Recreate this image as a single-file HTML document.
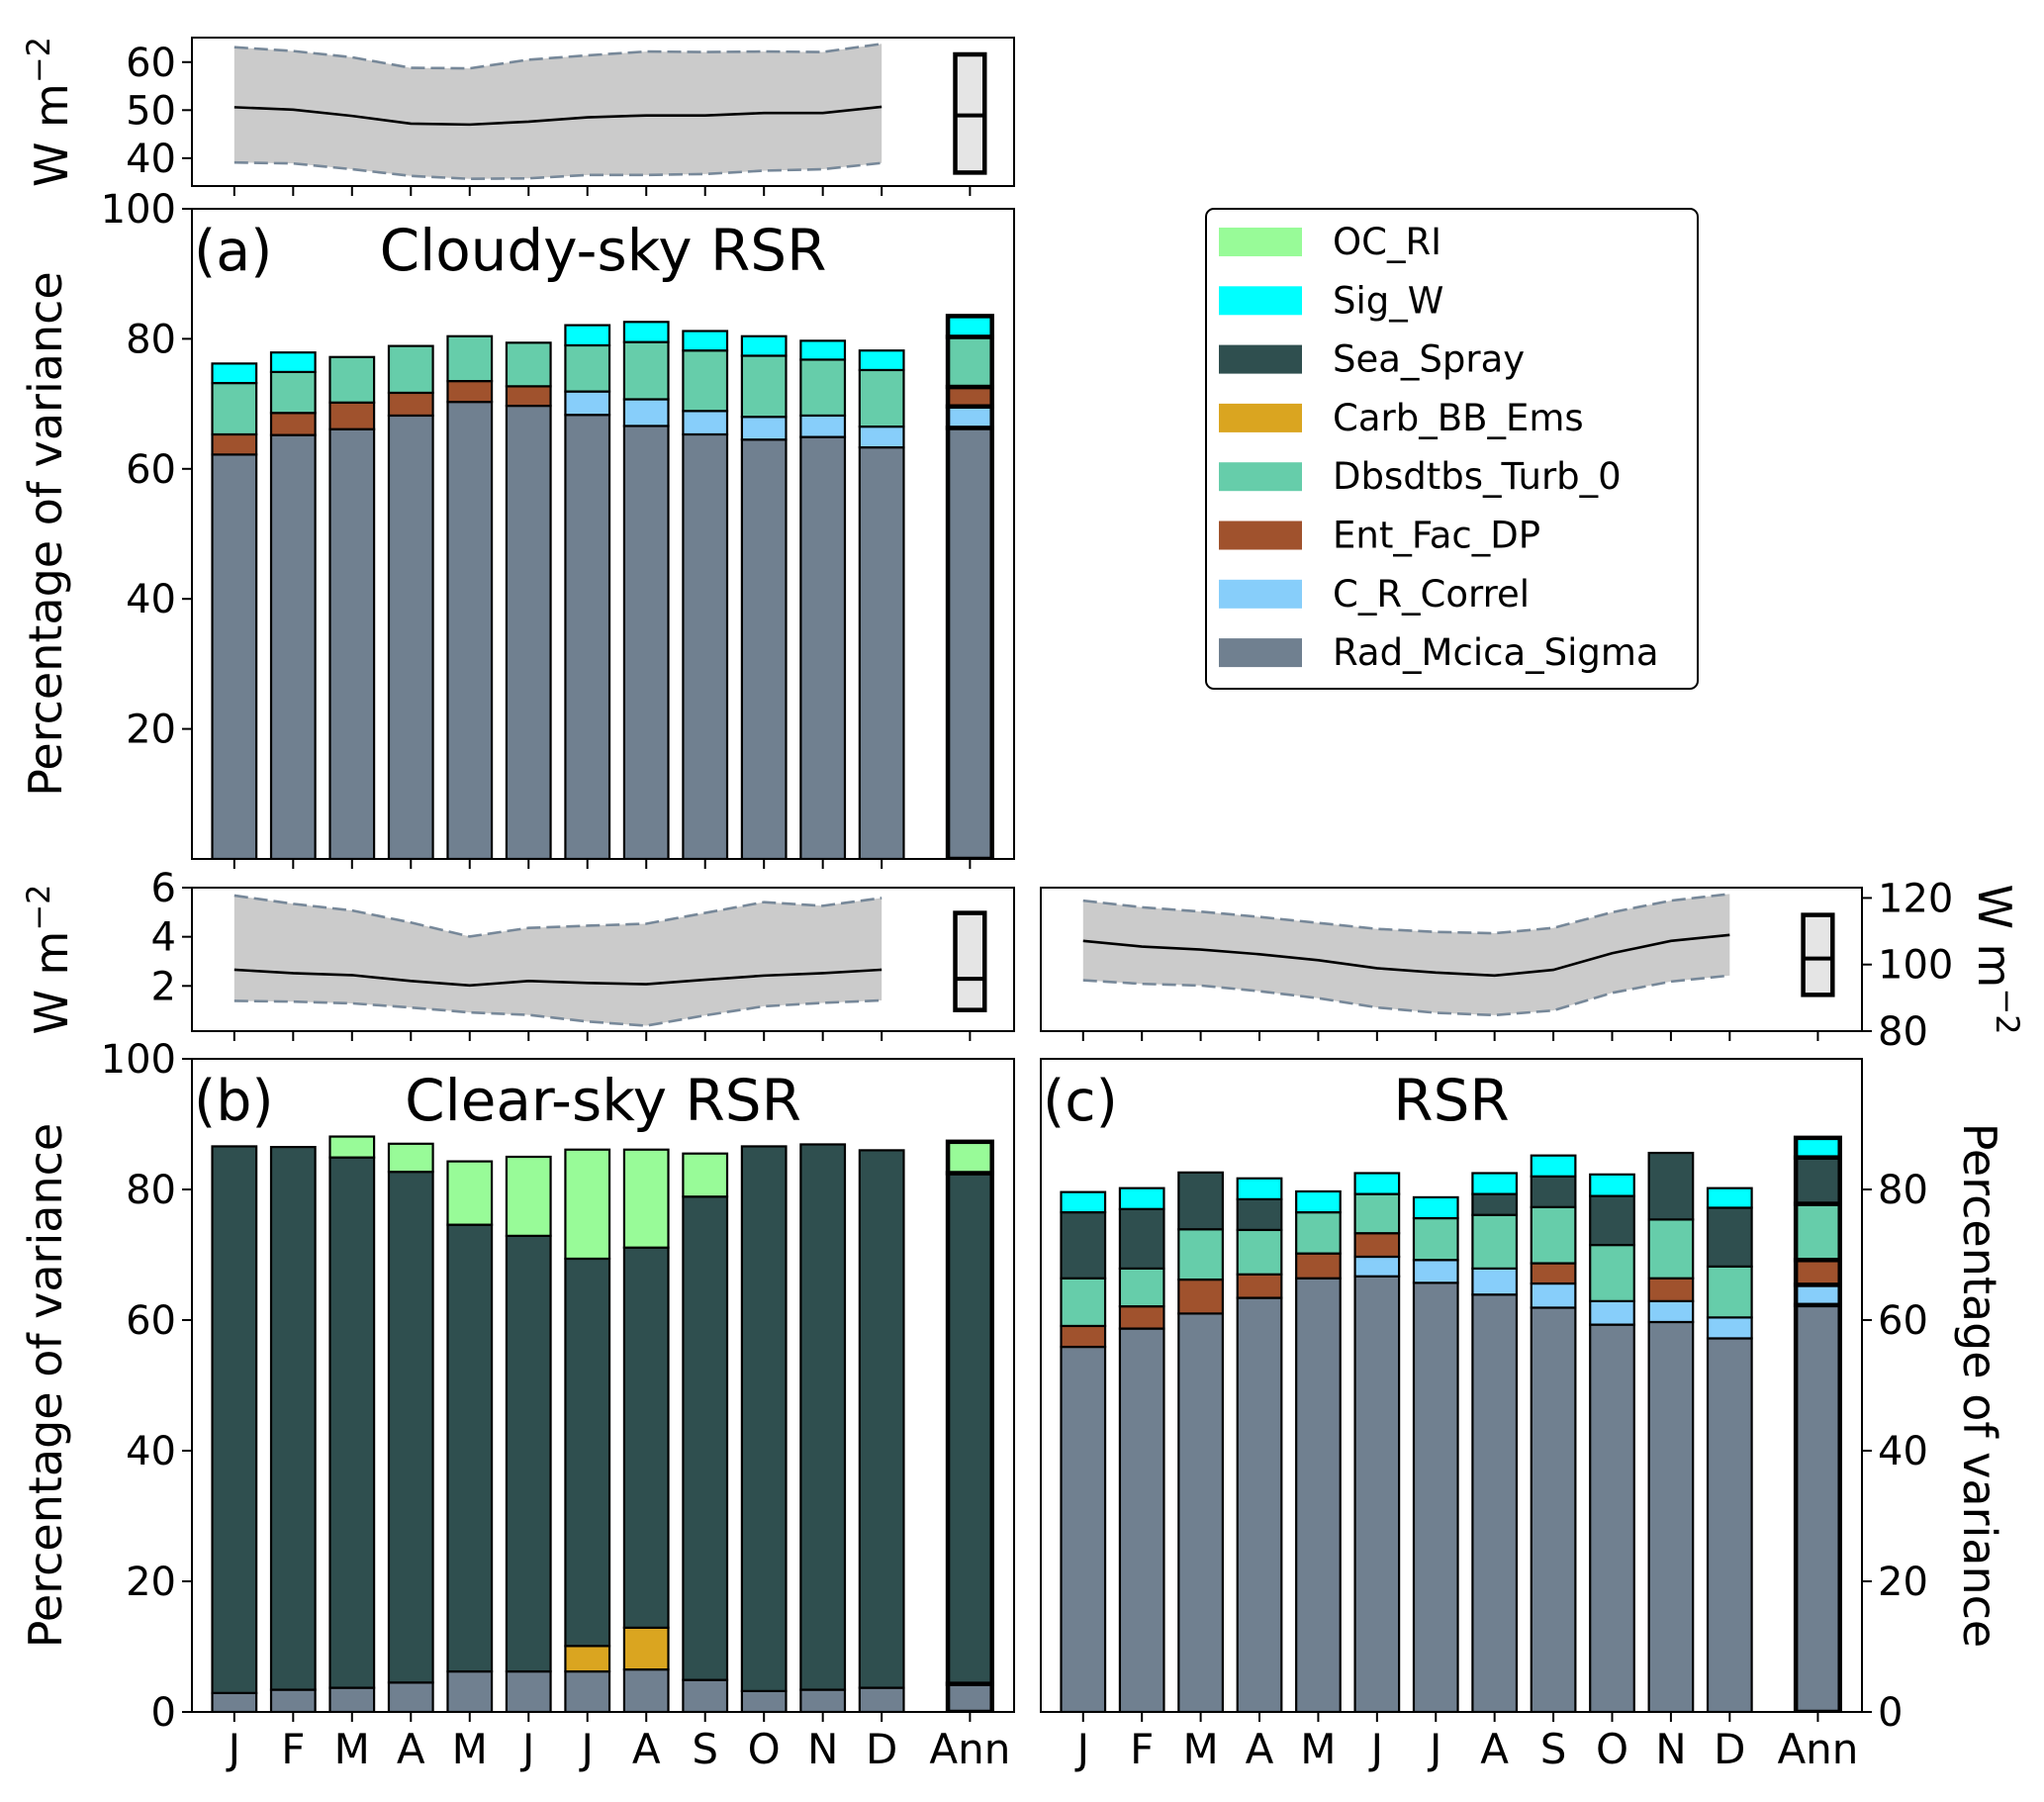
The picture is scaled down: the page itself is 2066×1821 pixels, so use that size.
<!DOCTYPE html>
<html><head><meta charset="utf-8">
<style>
html,body{margin:0;padding:0;background:#fff;}
svg{display:block;font-family:"DejaVu Sans","Liberation Sans",sans-serif;}
</style></head>
<body>
<svg id="fig" width="2066" height="1821" viewBox="0 0 2066 1821" xmlns="http://www.w3.org/2000/svg"></svg>
<script>
const months = ["J","F","M","A","M","J","J","A","S","O","N","D"];
const annLabel = "Ann";
const components = ["Rad_Mcica_Sigma","C_R_Correl","Ent_Fac_DP","Dbsdtbs_Turb_0","Carb_BB_Ems","Sea_Spray","Sig_W","OC_RI"];
const compColors = ["#708090","#87CEFA","#A0522D","#66CDAA","#DAA520","#2F4F4F","#00FFFF","#98FB98"];
// panel a (cloudy-sky) contributions, 12 months + Ann
const aRad = [62.2,65.2,66.1,68.2,70.3,69.7,68.3,66.6,65.3,64.5,64.9,63.3,66.3];
const aCrc = [0,0,0,0,0,0,3.6,4.1,3.6,3.5,3.3,3.2,3.3];
const aEnt = [3.1,3.4,4.1,3.5,3.2,3.0,0,0,0,0,0,0,3.0];
const aDbs = [7.9,6.3,7.0,7.2,6.9,6.7,7.1,8.8,9.3,9.4,8.6,8.7,7.7];
const aCarb = [0,0,0,0,0,0,0,0,0,0,0,0,0];
const aSea = [0,0,0,0,0,0,0,0,0,0,0,0,0];
const aSigw = [3.0,3.0,0,0,0,0,3.1,3.1,3.0,3.0,2.9,3.0,3.2];
const aOc = [0,0,0,0,0,0,0,0,0,0,0,0,0];
// panel b (clear-sky)
const bRad = [2.9,3.4,3.7,4.5,6.2,6.2,6.2,6.5,4.9,3.2,3.4,3.7,4.3];
const bCrc = [0,0,0,0,0,0,0,0,0,0,0,0,0];
const bEnt = [0,0,0,0,0,0,0,0,0,0,0,0,0];
const bDbs = [0,0,0,0,0,0,0,0,0,0,0,0,0];
const bCarb = [0,0,0,0,0,0,3.9,6.4,0,0,0,0,0];
const bSea = [83.7,83.1,81.2,78.2,68.4,66.7,59.3,58.2,74.0,83.4,83.5,82.3,78.2];
const bSigw = [0,0,0,0,0,0,0,0,0,0,0,0,0];
const bOc = [0,0,3.2,4.3,9.7,12.1,16.7,15.0,6.6,0,0,0,4.8];
// panel c (all-sky)
const cRad = [55.9,58.7,61.0,63.4,66.4,66.7,65.7,63.9,61.9,59.3,59.7,57.2,62.3];
const cCrc = [0,0,0,0,0,3.0,3.5,4.0,3.7,3.6,3.2,3.2,3.1];
const cEnt = [3.2,3.4,5.2,3.6,3.8,3.6,0,0,3.1,0,3.5,0,3.8];
const cDbs = [7.3,5.8,7.7,6.8,6.3,6.0,6.4,8.2,8.6,8.6,9.0,7.8,8.6];
const cCarb = [0,0,0,0,0,0,0,0,0,0,0,0,0];
const cSea = [10.1,9.1,8.7,4.7,0,0,0,3.2,4.7,7.5,10.2,9.0,7.1];
const cSigw = [3.1,3.2,0,3.2,3.2,3.2,3.2,3.2,3.2,3.3,0,3.0,3.0];
const cOc = [0,0,0,0,0,0,0,0,0,0,0,0,0];
// mini panels: mean and spread (W m-2)
const aMean = [50.6,50.1,48.8,47.2,47.0,47.6,48.5,48.9,48.9,49.4,49.4,50.7];
const aUpper = [63.1,62.3,61.0,58.8,58.7,60.5,61.4,62.2,62.1,62.2,62.1,63.8];
const aLower = [39.1,38.9,37.7,36.3,35.7,35.8,36.5,36.5,36.7,37.4,37.7,39.0];
const aBox = [37.0,48.9,61.6];
const bMean = [2.66,2.52,2.44,2.2,2.02,2.2,2.12,2.07,2.25,2.42,2.52,2.66];
const bUpper = [5.68,5.34,5.07,4.58,4.01,4.36,4.45,4.53,4.97,5.41,5.26,5.58];
const bLower = [1.39,1.36,1.29,1.12,0.92,0.82,0.55,0.38,0.8,1.17,1.31,1.41];
const bBox = [1.02,2.29,4.97];
const cMean = [107.1,105.4,104.5,103.1,101.3,98.9,97.6,96.7,98.4,103.4,107.1,108.9];
const cUpper = [119.2,117.2,115.9,114.3,112.5,110.7,109.8,109.4,111.0,115.7,119.2,121.2];
const cLower = [95.3,94.2,93.7,92.0,89.9,87.1,85.5,84.8,86.2,91.5,94.9,96.7];
const cBox = [90.9,101.8,114.9];
const pctTicksA = [20,40,60,80,100];
const pctTicksB = [0,20,40,60,80,100];
const pctTicksC = [0,20,40,60,80];
const miniTicksA = [40,50,60];
const miniTicksB = [2,4,6];
const miniTicksC = [80,100,120];

const NS = "http://www.w3.org/2000/svg";
const svg = document.getElementById("fig");
function mk(tag, attrs, parent, text){
  const e = document.createElementNS(NS, tag);
  for (const k in attrs) e.setAttribute(k, attrs[k]);
  if (text !== undefined) e.textContent = text;
  (parent || svg).appendChild(e);
  return e;
}
const XMIN = -0.72, XMAX = 13.25, ANNX = 12.5;
function xScale(L, R){ return v => L + (v - XMIN) / (XMAX - XMIN) * (R - L); }
function yScale(T, B, lo, hi){ return v => B - (v - lo) / (hi - lo) * (B - T); }
const ticksX = months.map((m,i)=>i).concat([ANNX]);

function drawMini(id, L, R, T, B, lo, hi, mean, upper, lower, box, ticks, side){
  const g = mk("g", {});
  
  
  const x = xScale(L, R), y = yScale(T, B, lo, hi);
  let poly = upper.map((v,i)=>x(i)+","+y(v)).concat(lower.map((v,i)=>i).reverse().map(i=>x(i)+","+y(lower[i])));
  const band = mk("polygon", {points: poly.join(" "), fill:"#cbcbcb", stroke:"none"}, g);
  
  
  const up = mk("polyline", {points: upper.map((v,i)=>x(i)+","+y(v)).join(" "), fill:"none", stroke:"#778899", "stroke-width":2.6, "stroke-dasharray":"14,6"}, g);
  
  
  const lw = mk("polyline", {points: lower.map((v,i)=>x(i)+","+y(v)).join(" "), fill:"none", stroke:"#778899", "stroke-width":2.6, "stroke-dasharray":"14,6"}, g);
  
  
  const mn = mk("polyline", {points: mean.map((v,i)=>x(i)+","+y(v)).join(" "), fill:"none", stroke:"#000", "stroke-width":2.6}, g);
  
  
  const bw = (x(1)-x(0))*0.5;
  const bx = mk("rect", {x:x(ANNX)-bw/2, y:y(box[2]), width:bw, height:y(box[0])-y(box[2]), fill:"#e5e5e5", stroke:"#000", "stroke-width":4.5}, g);
  
  
  const md = mk("line", {x1:x(ANNX)-bw/2, x2:x(ANNX)+bw/2, y1:y(box[1]), y2:y(box[1]), stroke:"#000", "stroke-width":4}, g);
  
  
  const fr = mk("rect", {x:L, y:T, width:R-L, height:B-T, fill:"none", stroke:"#000", "stroke-width":2}, g);
  
  
  ticksX.forEach(t=>{ mk("line",{x1:x(t),x2:x(t),y1:B,y2:B+10,stroke:"#000","stroke-width":2},g); });
  ticks.forEach(t=>{
    if (side === "left"){
      mk("line",{x1:L-10,x2:L,y1:y(t),y2:y(t),stroke:"#000","stroke-width":2},g);
      const tl = mk("text",{x:L-16,y:y(t)+14,"text-anchor":"end","font-size":40},g,String(t));
      
      
    } else {
      mk("line",{x1:R,x2:R+10,y1:y(t),y2:y(t),stroke:"#000","stroke-width":2},g);
      const tl = mk("text",{x:R+16,y:y(t)+14,"text-anchor":"start","font-size":40},g,String(t));
      
      
    }
  });
  const cy = (T+B)/2;
  let lab;
  if (side === "left"){
    lab = mk("text",{x:0,y:0,"text-anchor":"middle","font-size":46,transform:"translate(68,"+cy+") rotate(-90)"},g);
  } else {
    lab = mk("text",{x:0,y:0,"text-anchor":"middle","font-size":46,transform:"translate("+(R+118)+","+cy+") rotate(90)"},g);
  }
  
  
  mk("tspan",{},lab,"W m");
  mk("tspan",{dy:-18,"font-size":32},lab,"\u22122");
}

function drawMain(id, L, R, T, B, series, ticks, side, tag, title, showX){
  const g = mk("g", {});
  
  
  const x = xScale(L, R), y = yScale(T, B, 0, 100);
  const bw = (x(1)-x(0))*0.75;
  const clipId = 'clip-' + id;
  const cp = mk("clipPath",{id:clipId},g);
  mk("rect",{x:L,y:T-20,width:R-L,height:B-T+20},cp);
  const bars = mk("g",{"clip-path":"url(#"+clipId+")"},g);
  for (let i=0;i<13;i++){
    const xc = i<12 ? i : ANNX;
    const isAnn = i===12;
    let base = 0;
    for (let k=0;k<series.length;k++){
      const v = series[k][i];
      if (v <= 0) continue;
      const r = mk("rect",{x:x(xc)-bw/2,y:y(base+v),width:bw,height:y(base)-y(base+v),fill:compColors[k],stroke:"#000","stroke-width":isAnn?4.5:2.2},bars);
      
      
      base += v;
    }
  }
  const fr = mk("rect",{x:L,y:T,width:R-L,height:B-T,fill:"none",stroke:"#000","stroke-width":2},g);
  
  
  ticksX.forEach((t,i)=>{
    mk("line",{x1:x(t),x2:x(t),y1:B,y2:B+10,stroke:"#000","stroke-width":2},g);
    if (showX){
      const xl = mk("text",{x:x(t),y:B+52,"text-anchor":"middle","font-size":42},g,i<12?months[i]:annLabel);
      
      
    }
  });
  ticks.forEach(t=>{
    if (side==="left"){
      mk("line",{x1:L-10,x2:L,y1:y(t),y2:y(t),stroke:"#000","stroke-width":2},g);
      const tl = mk("text",{x:L-16,y:y(t)+14,"text-anchor":"end","font-size":40},g,String(t));
      
      
    } else {
      mk("line",{x1:R,x2:R+10,y1:y(t),y2:y(t),stroke:"#000","stroke-width":2},g);
      const tl = mk("text",{x:R+16,y:y(t)+14,"text-anchor":"start","font-size":40},g,String(t));
      
      
    }
  });
  const cy = (T+B)/2;
  let yl;
  if (side==="left") yl = mk("text",{x:0,y:0,"text-anchor":"middle","font-size":46,transform:"translate(62,"+cy+") rotate(-90)"},g,"Percentage of variance");
  else yl = mk("text",{x:0,y:0,"text-anchor":"middle","font-size":46,transform:"translate("+(R+103)+","+cy+") rotate(90)"},g,"Percentage of variance");
  
  
  const tg = mk("text",{x:L+2,y:T+62,"font-size":57},g,tag);
  
  
  const tt = mk("text",{x:(L+R)/2,y:T+62,"text-anchor":"middle","font-size":58},g,title);
  
  
}

// layout (px)
const LA=194, RA=1025, LC=1052, RC=1882;
drawMini("a", LA, RA, 38, 188, 34.2, 65.1, aMean, aUpper, aLower, aBox, miniTicksA, "left");
drawMain("a", LA, RA, 211, 868, [aRad,aCrc,aEnt,aDbs,aCarb,aSea,aSigw,aOc], pctTicksA, "left", "(a)", "Cloudy-sky RSR", false);
drawMini("b", LA, RA, 897, 1042, 0.16, 6, bMean, bUpper, bLower, bBox, miniTicksB, "left");
drawMain("b", LA, RA, 1070, 1730, [bRad,bCrc,bEnt,bDbs,bCarb,bSea,bSigw,bOc], pctTicksB, "left", "(b)", "Clear-sky RSR", true);
drawMini("c", LC, RC, 897, 1042, 80, 123.1, cMean, cUpper, cLower, cBox, miniTicksC, "right");
drawMain("c", LC, RC, 1070, 1730, [cRad,cCrc,cEnt,cDbs,cCarb,cSea,cSigw,cOc], pctTicksC, "right", "(c)", "RSR", true);

// legend
const lg = mk("g",{});


const lbox = mk("rect",{x:1219,y:211,width:497,height:485,rx:8,fill:"#fff",stroke:"#000","stroke-width":2},lg);


for (let j=0;j<8;j++){
  const k = 7-j;
  const cyy = 244 + j*59.3;
  const p = mk("rect",{x:1232,y:cyy-14,width:84,height:29,fill:compColors[k]},lg);
  
  
  const t = mk("text",{x:1347,y:cyy+13,"font-size":37},lg,components[k]);
  
  
}
</script>
</body></html>
